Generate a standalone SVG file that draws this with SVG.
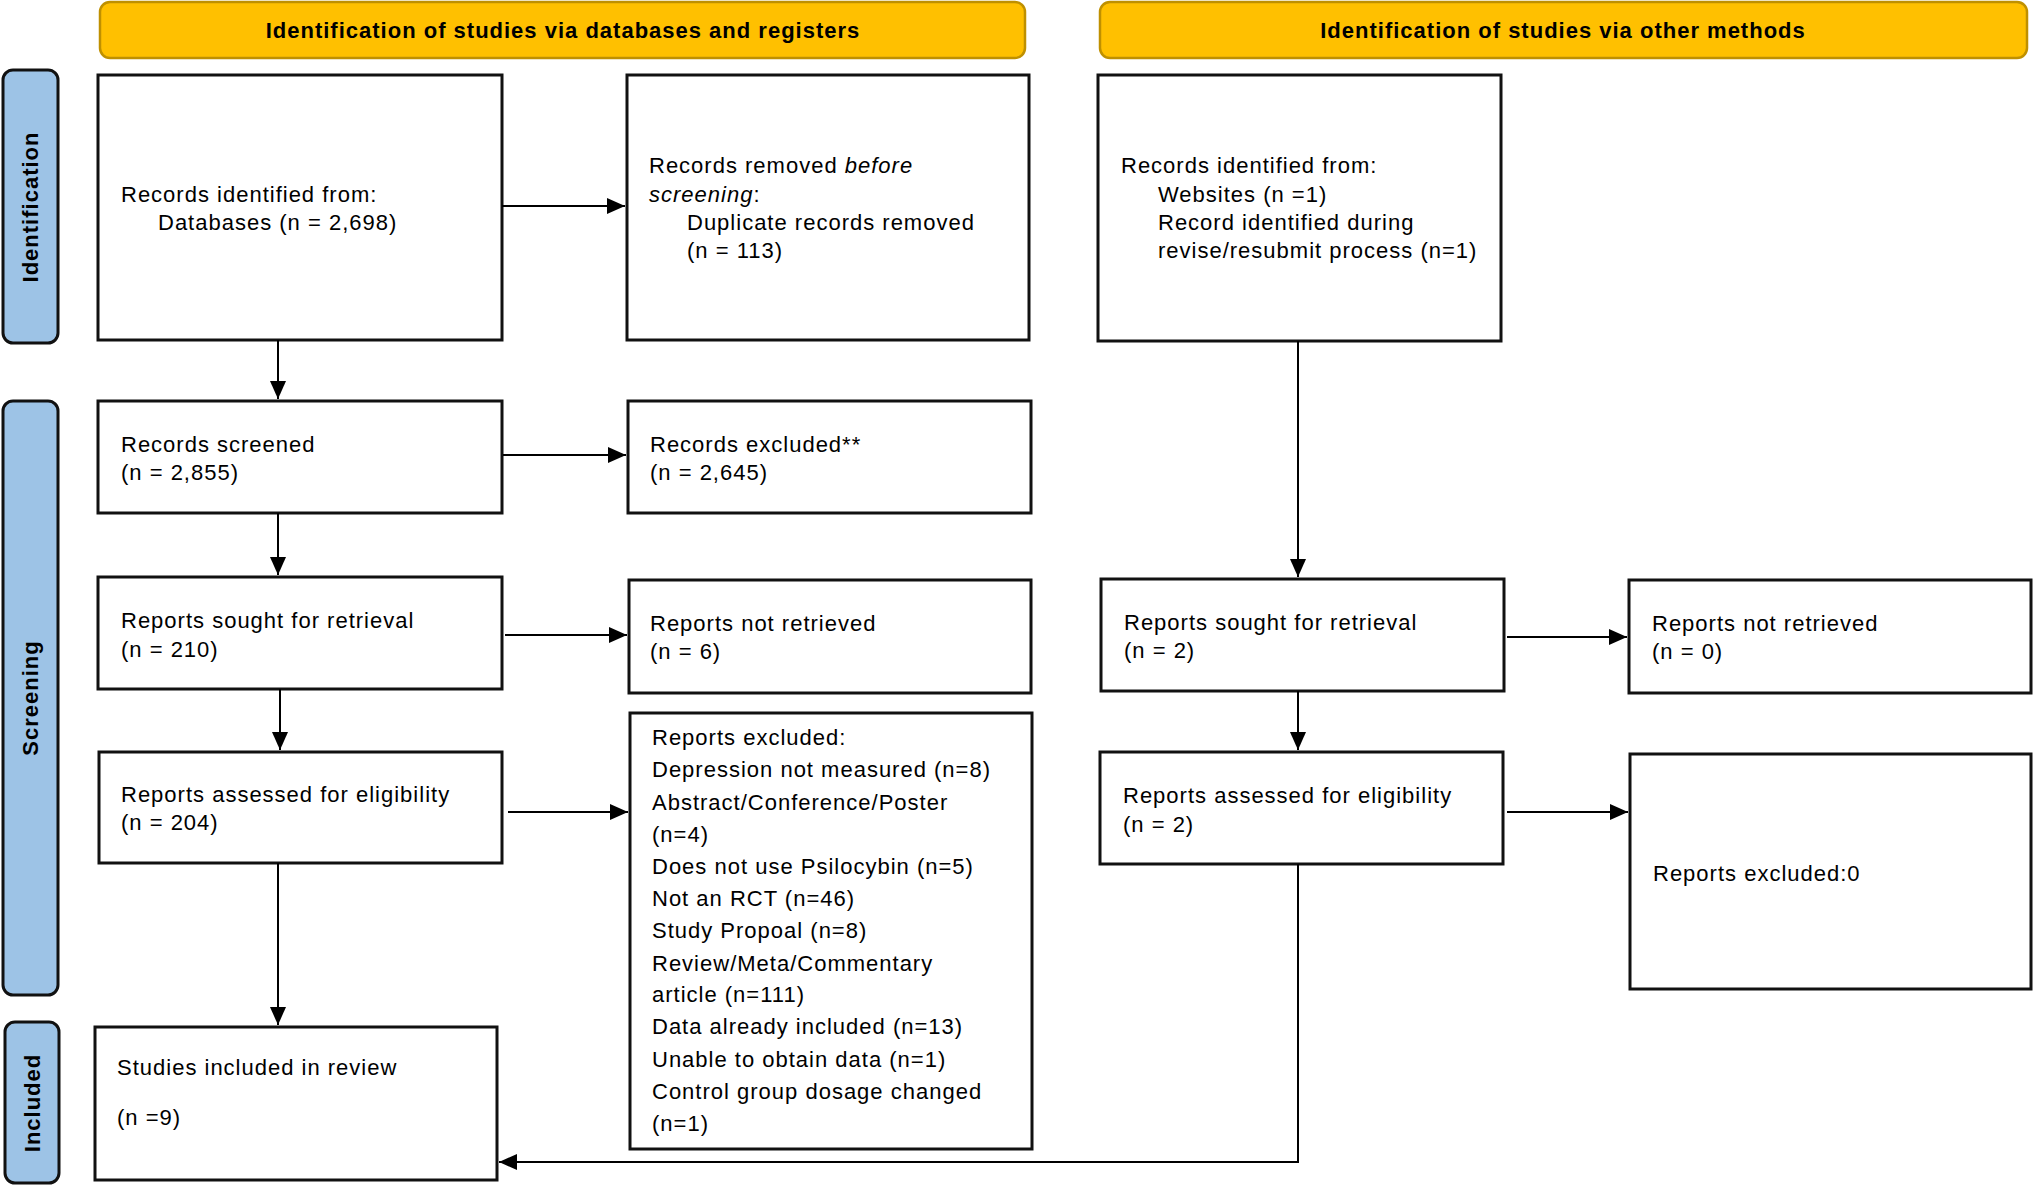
<svg xmlns="http://www.w3.org/2000/svg" width="2034" height="1186" viewBox="0 0 2034 1186">
<defs>
<style>
text{font-family:"Liberation Sans",Arial,sans-serif;font-size:22px;letter-spacing:1px;fill:#000}
.hdr{fill:#FFC000;stroke:#BF9000;stroke-width:2.5}
.hdrt{font-weight:bold;text-anchor:middle}
.side{fill:#9DC3E6;stroke:#111;stroke-width:3}
.sidet{font-weight:bold;text-anchor:middle}
.box{fill:#fff;stroke:#111;stroke-width:3}
.con{fill:none;stroke:#000;stroke-width:2}
</style>
<marker id="ah" markerWidth="18" markerHeight="16" refX="18" refY="8" orient="auto" markerUnits="userSpaceOnUse">
<path d="M0,0 L18,8 L0,16 z" fill="#000"/>
</marker>
</defs>
<rect width="2034" height="1186" fill="#fff"/>

<g id="header-databases">
<rect class="hdr" x="100" y="2" width="925" height="56" rx="10"/>
<text class="hdrt" x="563" y="38">Identification of studies via databases and registers</text>
</g>
<g id="header-other">
<rect class="hdr" x="1100" y="2" width="927" height="56" rx="10"/>
<text class="hdrt" x="1563" y="38">Identification of studies via other methods</text>
</g>

<g id="side-identification">
<rect class="side" x="3" y="70" width="55" height="273" rx="10"/>
<text class="sidet" transform="translate(38,207) rotate(-90)">Identification</text>
</g>
<g id="side-screening">
<rect class="side" x="3" y="401" width="55" height="594" rx="10"/>
<text class="sidet" transform="translate(38,698) rotate(-90)">Screening</text>
</g>
<g id="side-included">
<rect class="side" x="5" y="1022" width="54" height="161" rx="10"/>
<text class="sidet" transform="translate(40,1103) rotate(-90)">Included</text>
</g>

<g id="records-identified">
<rect class="box" x="98" y="75" width="404" height="265"/>
<text x="121" y="202">Records identified from:</text>
<text x="158" y="230">Databases (n = 2,698)</text>
</g>
<g id="records-removed">
<rect class="box" x="627" y="75" width="402" height="265"/>
<text x="649" y="173">Records removed <tspan font-style="italic">before</tspan></text>
<text x="649" y="202"><tspan font-style="italic">screening</tspan>:</text>
<text x="687" y="230">Duplicate records removed</text>
<text x="687" y="258">(n = 113)</text>
</g>
<g id="records-other">
<rect class="box" x="1098" y="75" width="403" height="266"/>
<text x="1121" y="173">Records identified from:</text>
<text x="1158" y="202">Websites (n =1)</text>
<text x="1158" y="230">Record identified during</text>
<text x="1158" y="258">revise/resubmit process (n=1)</text>
</g>

<g id="records-screened">
<rect class="box" x="98" y="401" width="404" height="112"/>
<text x="121" y="452">Records screened</text>
<text x="121" y="480">(n = 2,855)</text>
</g>
<g id="records-excluded">
<rect class="box" x="628" y="401" width="403" height="112"/>
<text x="650" y="452">Records excluded**</text>
<text x="650" y="480">(n = 2,645)</text>
</g>

<g id="reports-sought">
<rect class="box" x="98" y="577" width="404" height="112"/>
<text x="121" y="628">Reports sought for retrieval</text>
<text x="121" y="657">(n = 210)</text>
</g>
<g id="reports-not-retrieved">
<rect class="box" x="629" y="580" width="402" height="113"/>
<text x="650" y="631">Reports not retrieved</text>
<text x="650" y="659">(n = 6)</text>
</g>
<g id="reports-sought-other">
<rect class="box" x="1101" y="579" width="403" height="112"/>
<text x="1124" y="630">Reports sought for retrieval</text>
<text x="1124" y="658">(n = 2)</text>
</g>
<g id="reports-not-retrieved-other">
<rect class="box" x="1629" y="580" width="402" height="113"/>
<text x="1652" y="631">Reports not retrieved</text>
<text x="1652" y="659">(n = 0)</text>
</g>

<g id="reports-assessed">
<rect class="box" x="99" y="752" width="403" height="111"/>
<text x="121" y="802">Reports assessed for eligibility</text>
<text x="121" y="830">(n = 204)</text>
</g>
<g id="reports-excluded">
<rect class="box" x="630" y="713" width="402" height="436"/>
<text x="652" y="745">Reports excluded:</text>
<text x="652" y="777">Depression not measured (n=8)</text>
<text x="652" y="810">Abstract/Conference/Poster</text>
<text x="652" y="842">(n=4)</text>
<text x="652" y="874">Does not use Psilocybin (n=5)</text>
<text x="652" y="906">Not an RCT (n=46)</text>
<text x="652" y="938">Study Propoal (n=8)</text>
<text x="652" y="971">Review/Meta/Commentary</text>
<text x="652" y="1002">article (n=111)</text>
<text x="652" y="1034">Data already included (n=13)</text>
<text x="652" y="1067">Unable to obtain data (n=1)</text>
<text x="652" y="1099">Control group dosage changed</text>
<text x="652" y="1131">(n=1)</text>
</g>
<g id="reports-assessed-other">
<rect class="box" x="1100" y="752" width="403" height="112"/>
<text x="1123" y="803">Reports assessed for eligibility</text>
<text x="1123" y="832">(n = 2)</text>
</g>
<g id="reports-excluded-other">
<rect class="box" x="1630" y="754" width="401" height="235"/>
<text x="1653" y="881">Reports excluded:0</text>
</g>

<g id="studies-included">
<rect class="box" x="95" y="1027" width="402" height="153"/>
<text x="117" y="1075">Studies included in review</text>
<text x="117" y="1125">(n =9)</text>
</g>

<g id="connectors">
<line class="con" x1="502" y1="206" x2="625" y2="206" marker-end="url(#ah)"/>
<line class="con" x1="278" y1="340" x2="278" y2="399" marker-end="url(#ah)"/>
<line class="con" x1="503" y1="455" x2="626" y2="455" marker-end="url(#ah)"/>
<line class="con" x1="278" y1="513" x2="278" y2="575" marker-end="url(#ah)"/>
<line class="con" x1="505" y1="635" x2="627" y2="635" marker-end="url(#ah)"/>
<line class="con" x1="280" y1="689" x2="280" y2="750" marker-end="url(#ah)"/>
<line class="con" x1="508" y1="812" x2="628" y2="812" marker-end="url(#ah)"/>
<line class="con" x1="278" y1="863" x2="278" y2="1025" marker-end="url(#ah)"/>
<line class="con" x1="1298" y1="341" x2="1298" y2="577" marker-end="url(#ah)"/>
<line class="con" x1="1507" y1="637" x2="1627" y2="637" marker-end="url(#ah)"/>
<line class="con" x1="1298" y1="691" x2="1298" y2="750" marker-end="url(#ah)"/>
<line class="con" x1="1507" y1="812" x2="1628" y2="812" marker-end="url(#ah)"/>
<polyline class="con" points="1298,864 1298,1162 499,1162" marker-end="url(#ah)"/>
</g>
</svg>
